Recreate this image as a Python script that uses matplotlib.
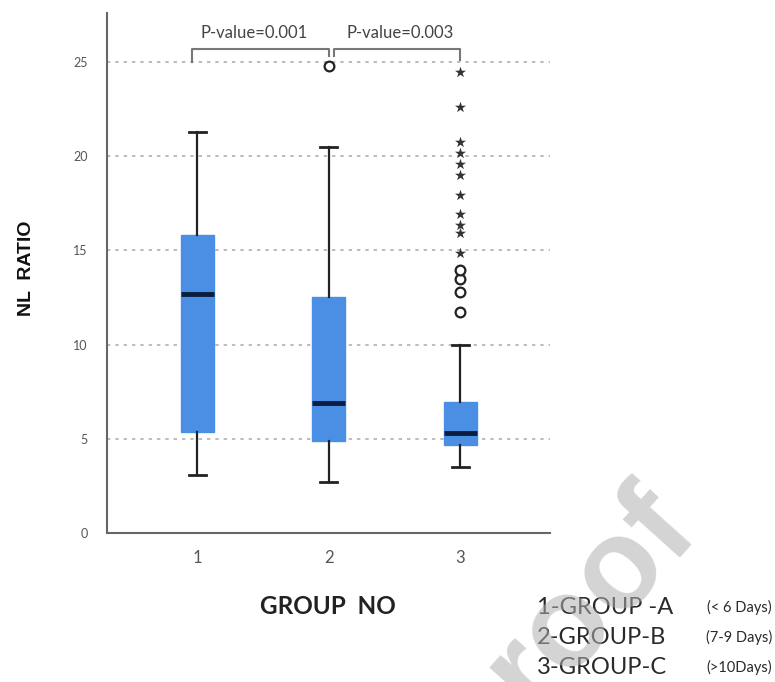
import matplotlib
matplotlib.use("Agg")
import matplotlib.pyplot as plt

# --- data ---
groups = [1, 2, 3]
group_labels = ["1", "2", "3"]
whis_low = [3.1, 2.7, 3.5]
q1 = [5.35, 4.9, 4.65]
medians = [12.7, 6.9, 5.3]
q3 = [15.8, 12.5, 6.95]
whis_high = [21.3, 20.5, 10.0]
circle_outliers = [[], [24.8], [11.75, 12.8, 13.5, 13.95]]
star_outliers_g3 = [14.85, 15.9, 16.35, 16.95, 17.95, 19.0, 19.6, 20.15, 20.75, 22.6, 24.45]
y_ticks = [0, 5, 10, 15, 20, 25]
pvalue_labels = ["P-value=0.001", "P-value=0.003"]
legend_main = ["1-GROUP -A", "2-GROUP-B", "3-GROUP-C"]
legend_days = ["(< 6 Days)", "(7-9 Days)", "(>10Days)"]

BOX_BLUE = "#4a8fe3"
MEDIAN = "#0b1d40"
GRAY_TXT = "#555555"

fig = plt.figure(figsize=(7.75, 6.82), dpi=100)
ax = fig.add_axes([107 / 775, 1 - 533 / 682, 443 / 775, 520 / 682])

stats = []
for i in range(len(groups)):
    stats.append({
        "whislo": whis_low[i], "q1": q1[i], "med": medians[i],
        "q3": q3[i], "whishi": whis_high[i], "fliers": circle_outliers[i],
    })

ax.bxp(stats, positions=groups, widths=0.25, capwidths=0.13, patch_artist=True,
       boxprops=dict(facecolor=BOX_BLUE, edgecolor=BOX_BLUE, linewidth=1),
       medianprops=dict(color=MEDIAN, linewidth=3.5),
       whiskerprops=dict(color="#222222", linewidth=1.6),
       capprops=dict(color="#222222", linewidth=2),
       flierprops=dict(marker="o", markerfacecolor="white", markeredgecolor="#222222",
                       markersize=7, markeredgewidth=1.6))

# extreme outliers (SPSS stars)
ax.scatter([groups[2]] * len(star_outliers_g3), star_outliers_g3, marker="*",
           s=70, color="#333333", zorder=4, linewidths=0)

# significance brackets
br_col = "#777777"
ax.plot([0.96, 0.96, 2.0, 2.0], [25.0, 25.7, 25.7, 25.3], color=br_col, lw=1.5)
ax.plot([2.04, 2.04, 3.0, 3.0], [25.3, 25.7, 25.7, 25.1], color=br_col, lw=1.5)
ax.text(1.43, 26.55, pvalue_labels[0], ha="center", va="center", fontsize=12,
        color="#444444", family="Lato")
ax.text(2.54, 26.55, pvalue_labels[1], ha="center", va="center", fontsize=12,
        color="#444444", family="Lato")

ax.set_xlim(0.315, 3.68)
ax.set_ylim(0, 27.6)
ax.set_xticks(groups)
ax.set_xticklabels(group_labels, fontsize=12, color=GRAY_TXT, family="Lato")
ax.set_yticks(y_ticks)
ax.set_yticklabels([str(t) for t in y_ticks], fontsize=9, color=GRAY_TXT, family="Lato")
ax.tick_params(axis="both", length=0)
ax.tick_params(axis="y", pad=14)
ax.tick_params(axis="x", pad=12)

ax.yaxis.grid(True, linestyle=(0, (2, 3)), color="#b0b0b0", linewidth=1.2)
ax.set_axisbelow(True)
for s in ["top", "right"]:
    ax.spines[s].set_visible(False)
for s in ["left", "bottom"]:
    ax.spines[s].set_color("#666666")
    ax.spines[s].set_linewidth(1.5)

# axis titles
fig.text(27 / 775, 1 - 268 / 682, "NL  RATIO", rotation=90, ha="center", va="center",
         fontsize=14, fontweight="bold", family="Liberation Sans", color="#111111")
fig.text(328 / 775, 1 - 607 / 682, "GROUP  NO", ha="center", va="center",
         fontsize=17.5, fontweight="bold", family="Lato", color="#222222")

# group key
for i in range(3):
    y = 1 - (607 + 30 * i) / 682
    fig.text(537 / 775, y, legend_main[i], ha="left", va="center", fontsize=17,
             family="Lato", color="#2a2a2a")
    fig.text(772 / 775, y, legend_days[i], ha="right", va="center", fontsize=10.5,
             family="Lato", color="#2a2a2a")

# watermark, drawn over the key like in the source
fig.text(676 / 775, 1 - 512 / 682, "Journal Pre-proof", rotation=48, rotation_mode="anchor",
         ha="right", va="center", fontsize=92, fontweight="bold", family="Liberation Sans",
         color="#b0b0b0", alpha=0.55, zorder=5)

fig.savefig("out.png", dpi=100)
